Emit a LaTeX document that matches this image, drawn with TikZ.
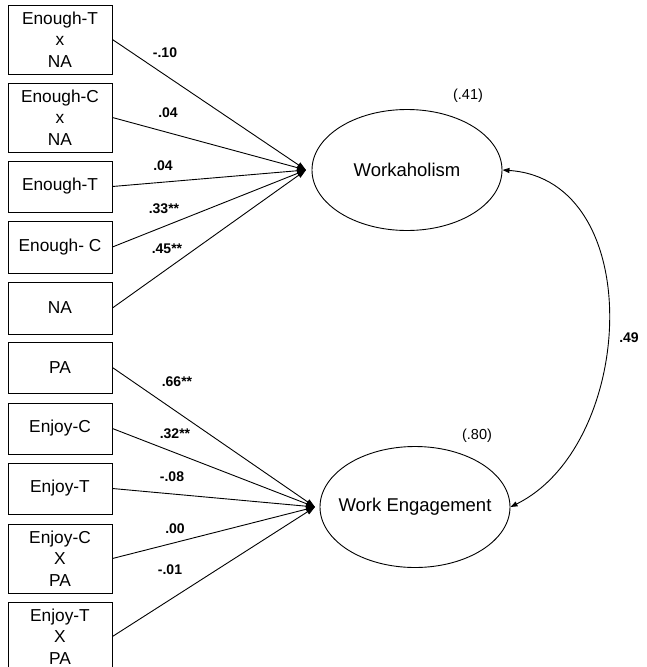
\documentclass[tikz,border=0pt]{standalone}
\usepackage{fontspec}
\setmainfont{Liberation Sans}
\usetikzlibrary{arrows.meta,shapes.geometric}
\begin{document}
\begin{tikzpicture}[x=1pt,y=-1pt,
  varbox/.style={draw,line width=0.9pt,minimum width=104pt,inner sep=0pt,align=center,font=\fontsize{17.3}{21.5}\selectfont},
  latent/.style={draw,ellipse,line width=0.9pt,minimum width=190pt,minimum height=121pt,inner sep=0pt,font=\fontsize{18.5}{21}\selectfont},
  coef/.style={font=\bfseries\fontsize{14}{16}\selectfont,inner sep=0pt},
  rsq/.style={font=\fontsize{14.5}{16}\selectfont,inner sep=0pt},
  path/.style={line width=0.9pt,-{Triangle[length=9pt,width=6pt]}},
  corr/.style={line width=0.9pt,{Triangle[length=7pt,width=5pt]}-{Triangle[length=7pt,width=5pt]}}
]
\useasboundingbox (0,0) rectangle (646,667);
\clip (0,0) rectangle (646,667);
% boxes
\node[varbox,minimum height=69pt] (b1) at (60,39.5) {Enough-T\\x\\NA};
\node[varbox,minimum height=69pt] (b2) at (60,117.5) {Enough-C\\x\\NA};
\node[varbox,minimum height=51pt] (b3) at (60,186.5) {Enough-T};
\node[varbox,minimum height=52pt] (b4) at (60,247) {Enough- C};
\node[varbox,minimum height=52pt] (b5) at (60,308) {NA};
\node[varbox,minimum height=51pt] (b6) at (60,367.5) {PA};
\node[varbox,minimum height=51pt] (b7) at (60,428.5) {Enjoy-C};
\node[varbox,minimum height=51pt] (b8) at (60,488.5) {Enjoy-T};
\node[varbox,minimum height=69pt] (b9) at (60,558.5) {Enjoy-C\\X\\PA};
\node[varbox,minimum height=69pt] (b10) at (60,636.5) {Enjoy-T\\X\\PA};
% latent
\node[latent] (wk) at (407,170) {\makebox[0pt]{Workaholism}};
\node[latent] (we) at (415,507) {\makebox[0pt]{Work Engagement}};
\coordinate (wkin) at (306,170);
\coordinate (wein) at (315,507);
% paths
\foreach \b in {b1,b2,b3,b4,b5} \draw[path] (\b.east) -- (wkin);
\foreach \b in {b6,b7,b8,b9,b10} \draw[path] (\b.east) -- (wein);
% correlation
\draw[corr] (wk.east) .. controls (648,180) and (636,445) .. (we.east);
% labels
\node[coef] at (165,53) {-.10};
\node[coef] at (168,113) {.04};
\node[coef] at (163,166) {.04};
\node[coef] at (164,209) {.33**};
\node[coef] at (167,249) {.45**};
\node[coef] at (177,382) {.66**};
\node[coef] at (175,434) {.32**};
\node[coef] at (172,477) {-.08};
\node[coef] at (175,529) {.00};
\node[coef] at (170,570) {-.01};
\node[coef] at (629,338) {.49};
\node[rsq] at (468,96) {(.41)};
\node[rsq] at (477,436) {(.80)};
\end{tikzpicture}
\end{document}
